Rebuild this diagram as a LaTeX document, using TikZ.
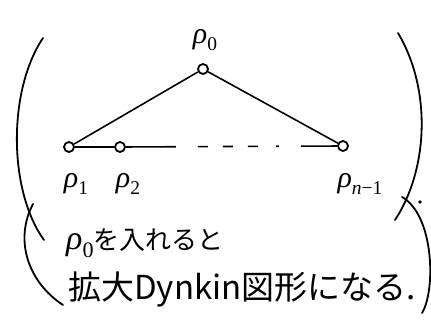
\documentclass[tikz,border=0pt]{standalone}
\usepackage{graphicx}
\usepackage{fontspec}
\newfontfamily\jpfont{Noto Sans CJK JP}
\newfontfamily\grk{Liberation Serif}
\newcommand{\rr}[1]{{\grk\itshape ρ}\raisebox{-0.25em}{\scalebox{0.65}{\grk #1}}}
\tikzset{
  vertex/.style={circle, draw, line width=1.8pt, fill=white, minimum size=10pt, inner sep=0pt},
  edge/.style={line width=1.6pt},
  paren/.style={line width=1.8pt, line cap=round},
  lbl/.style={font=\fontsize{30}{34}\selectfont, inner sep=0pt},
  note/.style={anchor=west, inner sep=0pt},
}
\begin{document}
\begin{tikzpicture}[x=1pt, y=-1pt]
  \useasboundingbox (0,0) rectangle (431,324);

  % ---------------------------------------------------------------- diagram
  \node[vertex] (rho0) at (203,69) {};
  \node[vertex] (rho1) at (69,147) {};
  \node[vertex] (rho2) at (120,147) {};
  \node[vertex] (rhoLast) at (343,146) {};

  \node[lbl] (rho0Label) at (205,40) {\rr{0}};
  \node[lbl] (rho1Label) at (76,184) {\rr{1}};
  \node[lbl] (rho2Label) at (128,184) {\rr{2}};
  \node[lbl] (rhoLastLabel) at (360,184) {\rr{\itshape n\upshape −1}};

  \draw[edge] (rho0) -- (rho1);
  \draw[edge] (rho0) -- (rhoLast);
  \draw[edge] (rho1) -- (rho2);
  \draw[edge, dash pattern=on 50pt off 22pt on 10pt off 15pt on 10pt off 15pt on 10pt off 18pt on 3pt off 22pt on 60pt]
    (rho2) -- (rhoLast);

  % ---------------------------------------------------------------- brackets
  \draw[paren] (43,38) .. controls (8,90) and (8,190) .. (44,240);
  \draw[paren] (398,33) .. controls (432,90) and (428,170) .. (395,220);
  \fill (420,202) circle (1.8pt);

  \draw[paren] (33,204) .. controls (14,240) and (28,282) .. (63,305);
  \draw[paren] (402,197) .. controls (434,215) and (436,290) .. (422,313);

  % ---------------------------------------------------------------- note
  \node[note] (line1) at (66,243)
    {{\fontsize{34}{38}\selectfont\rr{0}}\fontsize{26}{30}\selectfont\jpfont を入れると};
  \node[note] (line2) at (68,290) {\fontsize{33}{39}\selectfont\jpfont 拡大Dynkin図形になる.};

\end{tikzpicture}
\end{document}
